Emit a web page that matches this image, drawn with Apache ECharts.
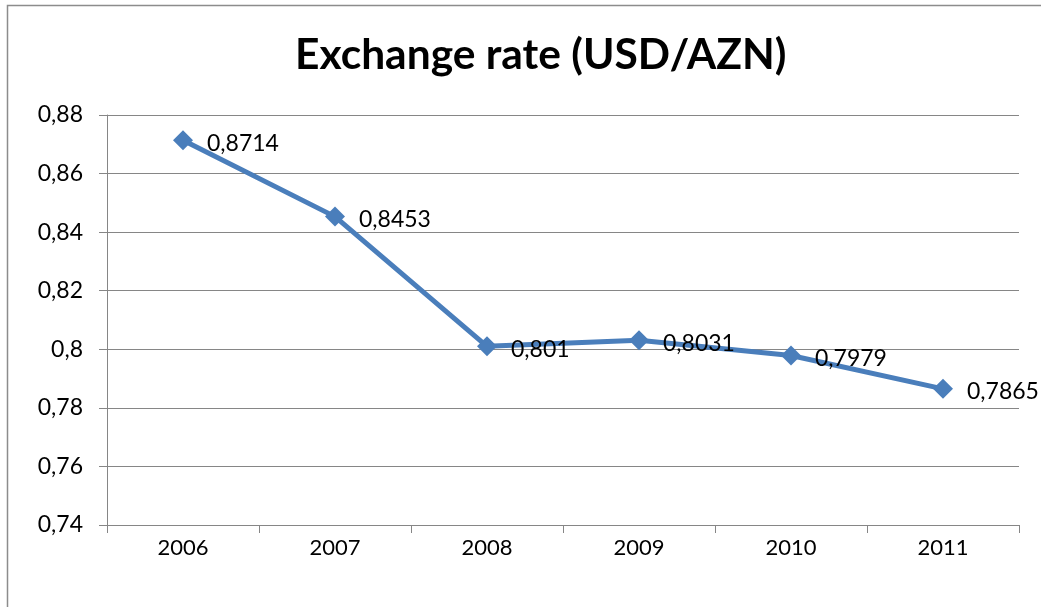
<!DOCTYPE html>
<html>
<head>
<meta charset="utf-8">
<script src="https://cdn.jsdelivr.net/npm/echarts@6/dist/echarts.min.js"></script>
<style>html,body{margin:0;padding:0;background:#fff}#c{width:1041px;height:607px}</style>
</head>
<body>
<div id="c"></div>
<script>
var titleText = 'Exchange rate (USD/AZN)';
var years = ['2006', '2007', '2008', '2009', '2010', '2011'];
var rates = [0.8714, 0.8453, 0.801, 0.8031, 0.7979, 0.7865];
var yMin = 0.74, yMax = 0.88, yStep = 0.02;

function comma(v) { return String(+(+v).toFixed(4)).replace('.', ','); }

var chart = echarts.init(document.getElementById('c'));
chart.setOption({
  animation: false,
  backgroundColor: '#fff',
  title: {
    text: titleText, left: 290, top: 29,
    textStyle: { fontFamily: 'Lato', fontWeight: 'bold', fontSize: 42.5, color: '#000' }
  },
  graphic: [{
    type: 'rect', shape: { x: 7.5, y: 5.5, width: 1100, height: 700 },
    style: { fill: 'none', stroke: '#8c8c8c', lineWidth: 1.5 }, silent: true
  }],
  grid: { left: 107, right: 22, top: 115, bottom: 82, containLabel: false },
  xAxis: {
    type: 'category', data: years, boundaryGap: true,
    axisLine: { lineStyle: { color: '#868686', width: 1 } },
    axisTick: { show: true, length: 8, lineStyle: { color: '#868686' } },
    axisLabel: { color: '#000', fontFamily: 'Lato', fontSize: 22, margin: 12 }
  },
  yAxis: {
    type: 'value', min: yMin, max: yMax, interval: yStep,
    axisLine: { show: true, lineStyle: { color: '#868686', width: 1 } },
    axisTick: { show: true, length: 8, lineStyle: { color: '#868686' } },
    splitLine: { lineStyle: { color: '#868686', width: 1 } },
    axisLabel: { color: '#000', fontFamily: 'Lato', fontSize: 23, margin: 24,
      formatter: function (v) { return String(+v.toFixed(2)).replace('.', ','); } }
  },
  series: [{
    type: 'line', data: rates,
    symbol: 'diamond', symbolSize: 20,
    lineStyle: { color: '#4A7EBB', width: 5 },
    itemStyle: { color: '#4A7EBB' },
    label: { show: true, position: 'right', distance: 14, offset: [0, 3],
      color: '#000', fontFamily: 'Lato', fontSize: 23,
      formatter: function (p) { return comma(p.value); } }
  }]
});
</script>
</body>
</html>
